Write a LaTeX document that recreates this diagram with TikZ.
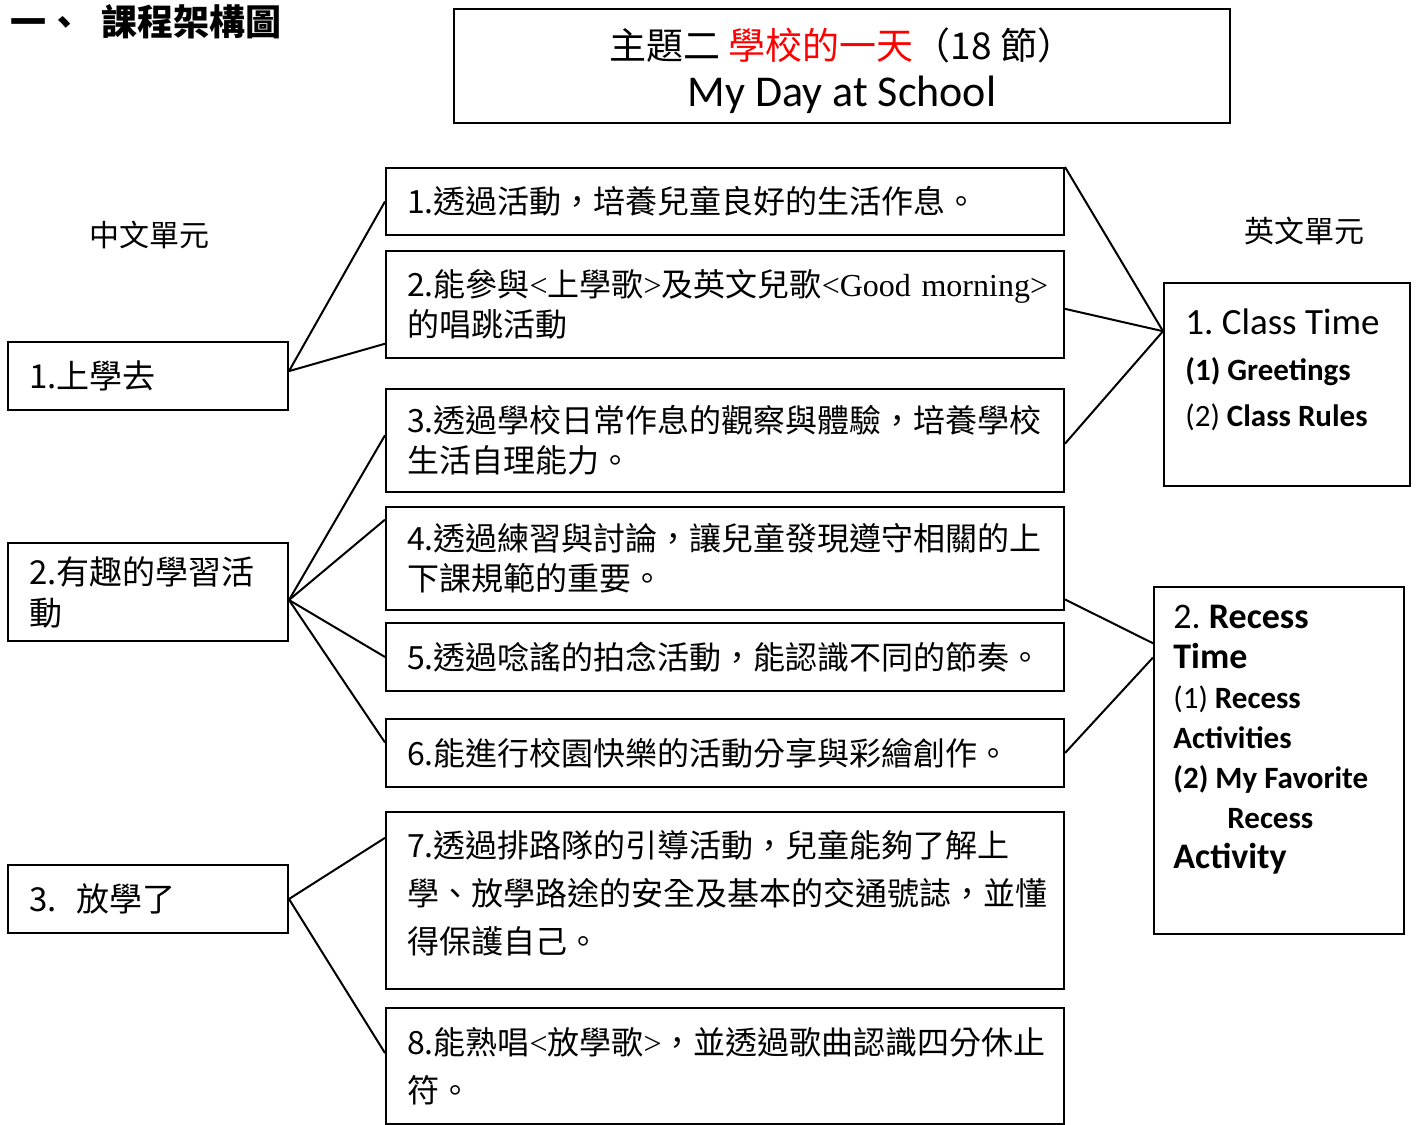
\documentclass[tikz,border=0pt]{standalone}
\usepackage{fontspec}
\setmainfont{Noto Sans CJK TC}
\newfontfamily\enfont{Carlito}
\newfontfamily\latfont{Liberation Serif}
\usetikzlibrary{calc}
\frenchspacing

\tikzset{
  box/.style={draw, line width=1pt, anchor=north west, align=left,
    inner xsep=10.5pt, inner ysep=0pt},
  unitbox/.style={box, text width=119pt, font=\fontsize{16.5}{20.5}\selectfont},
  goalbox/.style={box, text width=318pt, font=\fontsize{16}{20}\selectfont},
  themebox/.style={draw, line width=1pt, anchor=north west},
  link/.style={line width=1pt},
}

\begin{document}
\begin{tikzpicture}[x=0.5pt, y=-0.5pt]
  \useasboundingbox (0,0) rectangle (1418,1124);

  % heading and theme
  \node [anchor=west, font=\fontsize{18}{20}\selectfont\bfseries]
    (heading) at (3,22) {一、\hspace{0.55em}課程架構圖};
  \node [themebox, minimum width=388pt, minimum height=57pt, align=center,
    font=\fontsize{18.5}{23.5}\selectfont]
    (theme) at (453,8)
    {\rule{0pt}{21pt}主題二 \textcolor{red}{學校的一天}（18 節）\\
     {\enfont\fontsize{22}{23.5}\selectfont My Day at School}};

  \node [font=\fontsize{15}{18}\selectfont] (zhtitle) at (149,235) {中文單元};
  \node [font=\fontsize{15}{18}\selectfont] (entitle) at (1304,231) {英文單元};

  % chinese units
  \node [unitbox, minimum height=34pt] (l1) at (7,341) {1.上學去};
  \node [unitbox, minimum height=49pt] (l2) at (7,542) {2.有趣的學習活\\動};
  \node [unitbox, minimum height=34pt] (l3) at (7,864) {3.\hspace{0.6em}放學了};

  % goals
  \node [goalbox, minimum height=33.5pt] (m1) at (385,167)
    {1.透過活動，培養兒童良好的生活作息。};
  \node [goalbox, minimum height=53.5pt] (m2) at (385,250)
    {\mbox{2.能參與{\latfont<}上學歌{\latfont>}及英文兒歌{\latfont<Good morning>}}\\的唱跳活動};
  \node [goalbox, minimum height=51.5pt] (m3) at (385,388)
    {3.透過學校日常作息的觀察與體驗，培養學校\\生活自理能力。};
  \node [goalbox, minimum height=51.5pt] (m4) at (385,506)
    {4.透過練習與討論，讓兒童發現遵守相關的上\\下課規範的重要。};
  \node [goalbox, minimum height=34pt] (m5) at (385,622)
    {5.透過唸謠的拍念活動，能認識不同的節奏。};
  \node [goalbox, minimum height=34pt] (m6) at (385,718)
    {6.能進行校園快樂的活動分享與彩繪創作。};
  \node [goalbox, minimum height=88.5pt, font=\fontsize{16}{24}\selectfont] (m7) at (385,811)
    {7.透過排路隊的引導活動，兒童能夠了解上\\學、放學路途的安全及基本的交通號誌，並懂\\得保護自己。\rule[-9pt]{0pt}{9pt}};
  \node [goalbox, minimum height=58pt, font=\fontsize{16}{24}\selectfont] (m8) at (385,1007)
    {8.能熟唱{\latfont<}放學歌{\latfont>}，並透過歌曲認識四分休止\\符。};

  % english units
  \node [themebox, minimum width=123pt, minimum height=101.5pt] (r1) at (1163,282) {};
  \node [anchor=north west, align=left, inner sep=0pt,
    font=\enfont\fontsize{15.5}{23}\selectfont] (r1text) at (1185,308)
    {{\fontsize{18.5}{23}\selectfont 1. Class Time}\\
     \textbf{(1) Greetings}\\
     (2) \textbf{Class Rules}};
  \node [themebox, minimum width=125pt, minimum height=173.5pt] (r2) at (1153,586) {};
  \node [anchor=north west, align=left, inner sep=0pt,
    font=\enfont\fontsize{15.5}{20}\selectfont] (r2text) at (1173,605)
    {{\fontsize{18}{20}\selectfont 2. \textbf{Recess}}\\
     {\fontsize{18}{20}\selectfont\bfseries Time}\\
     (1) \textbf{Recess}\\
     \textbf{Activities}\\
     \textbf{(2) My Favorite}\\
     \hspace*{27pt}\textbf{Recess}\\
     {\fontsize{18}{20}\selectfont\bfseries Activity}};

  % left links
  \draw [link] ($(l1.north east)!0.43!(l1.south east)$) -- (m1.west);
  \draw [link] ($(l1.north east)!0.43!(l1.south east)$) -- ($(m2.north west)!0.86!(m2.south west)$);

  \draw [link] ($(l2.north east)!0.58!(l2.south east)$) -- ($(m3.north west)!0.45!(m3.south west)$);
  \draw [link] ($(l2.north east)!0.58!(l2.south east)$) -- ($(m4.north west)!0.13!(m4.south west)$);
  \draw [link] ($(l2.north east)!0.58!(l2.south east)$) -- (m5.west);
  \draw [link] ($(l2.north east)!0.58!(l2.south east)$) -- ($(m6.north west)!0.35!(m6.south west)$);

  \draw [link] (l3.east) -- ($(m7.north west)!0.15!(m7.south west)$);
  \draw [link] (l3.east) -- ($(m8.north west)!0.39!(m8.south west)$);

  % right links
  \draw [link] (m1.north east) -- ($(r1.north west)!0.24!(r1.south west)$);
  \draw [link] ($(m2.north east)!0.54!(m2.south east)$) -- ($(r1.north west)!0.24!(r1.south west)$);
  \draw [link] ($(m3.north east)!0.53!(m3.south east)$) -- ($(r1.north west)!0.24!(r1.south west)$);

  \draw [link] ($(m4.north east)!0.89!(m4.south east)$) -- ($(r2.north west)!0.164!(r2.south west)$);
  \draw [link] (m6.east) -- ($(r2.north west)!0.205!(r2.south west)$);
\end{tikzpicture}
\end{document}
